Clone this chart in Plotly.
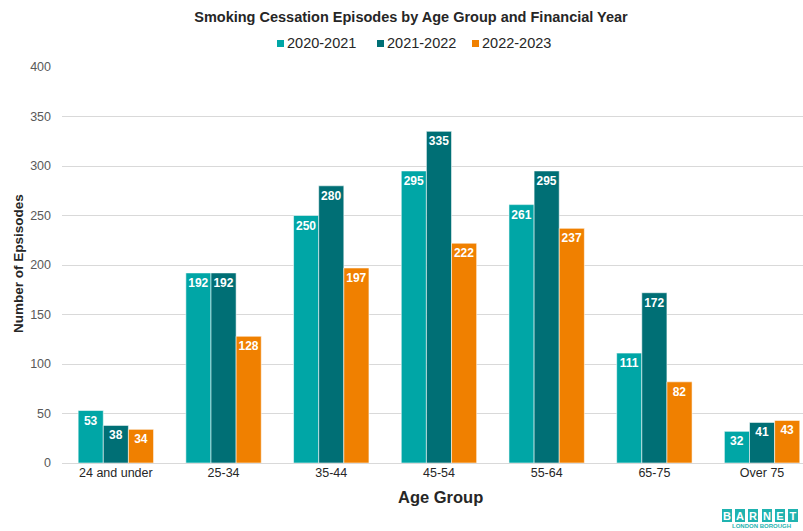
import plotly.graph_objects as go

# Smoking cessation episodes per age band, one series per financial year
age_groups = ["24 and under", "25-34", "35-44", "45-54", "55-64", "65-75", "Over 75"]
years = ["2020-2021", "2021-2022", "2022-2023"]
episodes_2020_21 = [53, 192, 250, 295, 261, 111, 32]
episodes_2021_22 = [38, 192, 280, 335, 295, 172, 41]
episodes_2022_23 = [34, 128, 197, 222, 237, 82, 43]
y_ticks = [0, 50, 100, 150, 200, 250, 300, 350, 400]

series = [episodes_2020_21, episodes_2021_22, episodes_2022_23]
colors = ["#00A6A6", "#006F75", "#F08000"]
FONT = "Liberation Sans, Arial, sans-serif"
W, H = 803, 531
plot_left, plot_top, plot_bottom = 62, 67, 463


def px_x(x):
    """Pixel column -> paper x."""
    return (x - plot_left) / (W - plot_left)


def px_y(y):
    """Pixel row -> paper y."""
    return (plot_bottom - y) / (plot_bottom - plot_top)


fig = go.Figure()
for name, vals, col in zip(years, series, colors):
    fig.add_trace(go.Bar(
        x=age_groups, y=vals, name=name,
        marker=dict(color=col, line=dict(color="rgba(255,255,255,0.55)", width=1)),
        text=[str(v) for v in vals],
        textposition="inside", insidetextanchor="end",
        textangle=0, constraintext="none",
        textfont=dict(color="white", size=12, family=FONT, weight="bold"),
        showlegend=False,
    ))

fig.update_layout(
    width=W, height=H,
    margin=dict(l=plot_left, r=0, t=plot_top, b=H - plot_bottom),
    paper_bgcolor="white", plot_bgcolor="white",
    barmode="group", bargap=0.3, bargroupgap=0,
    font=dict(family=FONT, color="#595959", size=12),
    title=dict(
        text="<b>Smoking Cessation Episodes by Age Group and Financial Year</b>",
        x=411 / W, xanchor="center", xref="container",
        y=1 - 17 / H, yanchor="middle", yref="container",
        font=dict(size=14.5, color="#262626", family=FONT),
    ),
    xaxis=dict(
        range=[-0.5, 6.38], showgrid=False, showline=False, zeroline=False,
        ticks="", tickfont=dict(size=12.5, color="#262626"),
    ),
    yaxis=dict(
        range=[0, 400], tickvals=y_ticks, showgrid=True, gridcolor="#D9D9D9",
        gridwidth=1, zeroline=True, zerolinecolor="#D9D9D9", zerolinewidth=1,
        ticks="", ticklabelstandoff=10, tickfont=dict(size=12.5, color="#595959"),
    ),
)

# Compact legend: small colour square followed by the year label
legend_square_left = [277, 377, 472]
for name, col, sx in zip(years, colors, legend_square_left):
    fig.add_shape(
        type="rect", xref="paper", yref="paper",
        x0=px_x(sx), x1=px_x(sx + 7), y0=px_y(47), y1=px_y(40),
        fillcolor=col, line=dict(width=0),
    )
    fig.add_annotation(
        text=name, xref="paper", yref="paper",
        x=px_x(sx + 8), y=px_y(43), xanchor="left", yanchor="middle",
        showarrow=False, font=dict(size=14.5, color="#262626", family=FONT),
    )

# Axis titles
fig.add_annotation(
    text="<b>Age Group</b>", xref="paper", yref="paper",
    x=px_x(440), y=px_y(497),
    xanchor="center", yanchor="middle", showarrow=False,
    font=dict(size=16.5, color="#262626", family=FONT),
)
fig.add_annotation(
    text="<b>Number of Epsisodes</b>", xref="paper", yref="paper",
    x=px_x(18), y=px_y(264), textangle=-90,
    xanchor="center", yanchor="middle", showarrow=False,
    font=dict(size=13.5, color="#262626", family=FONT),
)

# Borough logo in the bottom-right corner
logo_teal = "#1FB3B0"
for i, letter in enumerate("BARNET"):
    fig.add_annotation(
        text=f"<b>{letter}</b>", xref="paper", yref="paper",
        x=px_x(727 + i * 13.2), y=px_y(515),
        xanchor="center", yanchor="middle", showarrow=False,
        width=10, height=13, bgcolor=logo_teal, borderpad=0,
        bordercolor="white", borderwidth=1,
        font=dict(size=11, color="white", family=FONT),
    )
fig.add_annotation(
    text="<b>LONDON BOROUGH</b>", xref="paper", yref="paper",
    x=px_x(761), y=px_y(526),
    xanchor="center", yanchor="middle", showarrow=False,
    font=dict(size=6, color=logo_teal, family=FONT),
)

fig.write_html("out.html")
